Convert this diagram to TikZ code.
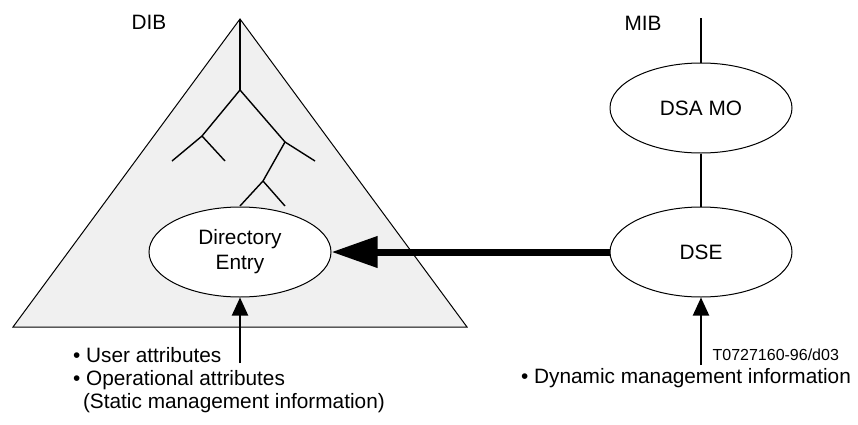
\documentclass[tikz,border=0pt]{standalone}
\usepackage{fontspec}
\setmainfont{Liberation Sans}
\usetikzlibrary{shapes.geometric,arrows.meta}

\begin{document}
\begin{tikzpicture}[x=0.5pt,y=-0.5pt,
    every node/.style={font=\fontsize{10.4}{12.5}\selectfont},
    entity/.style={draw,ellipse,fill=white,line width=0.5pt,minimum width=91pt,minimum height=45pt,inner sep=0pt,align=center},
    branch/.style={line width=0.7pt},
    feed/.style={line width=1pt,-{Triangle[length=9pt,width=8pt]}}]
    \useasboundingbox (0,0) rectangle (858,424);
    % DIB triangle
    \coordinate (apex) at (240,19);
    \draw[line width=0.5pt,fill=black!6] (apex)--(467,327)--(13,327)--cycle;
    \node at (149,22) {DIB};
    % tree
    \coordinate (fork) at (240,90);
    \coordinate (left) at (202,136);
    \coordinate (right) at (285,142);
    \coordinate (low) at (263,181);
    \draw[branch] (apex)--(fork);
    \draw[branch] (fork)--(left)--(172,161);
    \draw[branch] (left)--(225,161);
    \draw[branch] (fork)--(right)--(315,161);
    \draw[branch] (right)--(low)--(240,206);
    \draw[branch] (low)--(285,206);
    \node[entity] (entry) at (240,252) {Directory\\Entry};
    % MIB side
    \node at (643,23) {MIB};
    \coordinate (mibtop) at (701,18);
    \node[entity] (dsamo) at (701,108) {DSA MO};
    \node[entity] (dse) at (701,252) {DSE};
    \draw[line width=0.7pt] (mibtop)--(dsamo);
    \draw[line width=0.7pt] (dsamo)--(dse);
    \draw[line width=3.5pt,-{Triangle[length=23pt,width=15pt]}] (dse)--(entry);
    % inputs
    \coordinate (entryin) at (240,363);
    \coordinate (dsein) at (701,365);
    \draw[feed] (entryin)--(entry);
    \draw[feed] (dsein)--(dse);
    \node[anchor=west] (user) at (66,355) {\textbullet\ User attributes};
    \node[anchor=west] (oper) at (66,380) {\textbullet\ Operational attributes};
    \node[anchor=west] (static) at (76,403) {(Static management information)};
    \node[anchor=east,font=\fontsize{8}{9.6}\selectfont] (code) at (846,355) {T0727160-96/d03};
    \node[anchor=east] (dyn) at (858,378) {\textbullet\ Dynamic management information};
\end{tikzpicture}
\end{document}
